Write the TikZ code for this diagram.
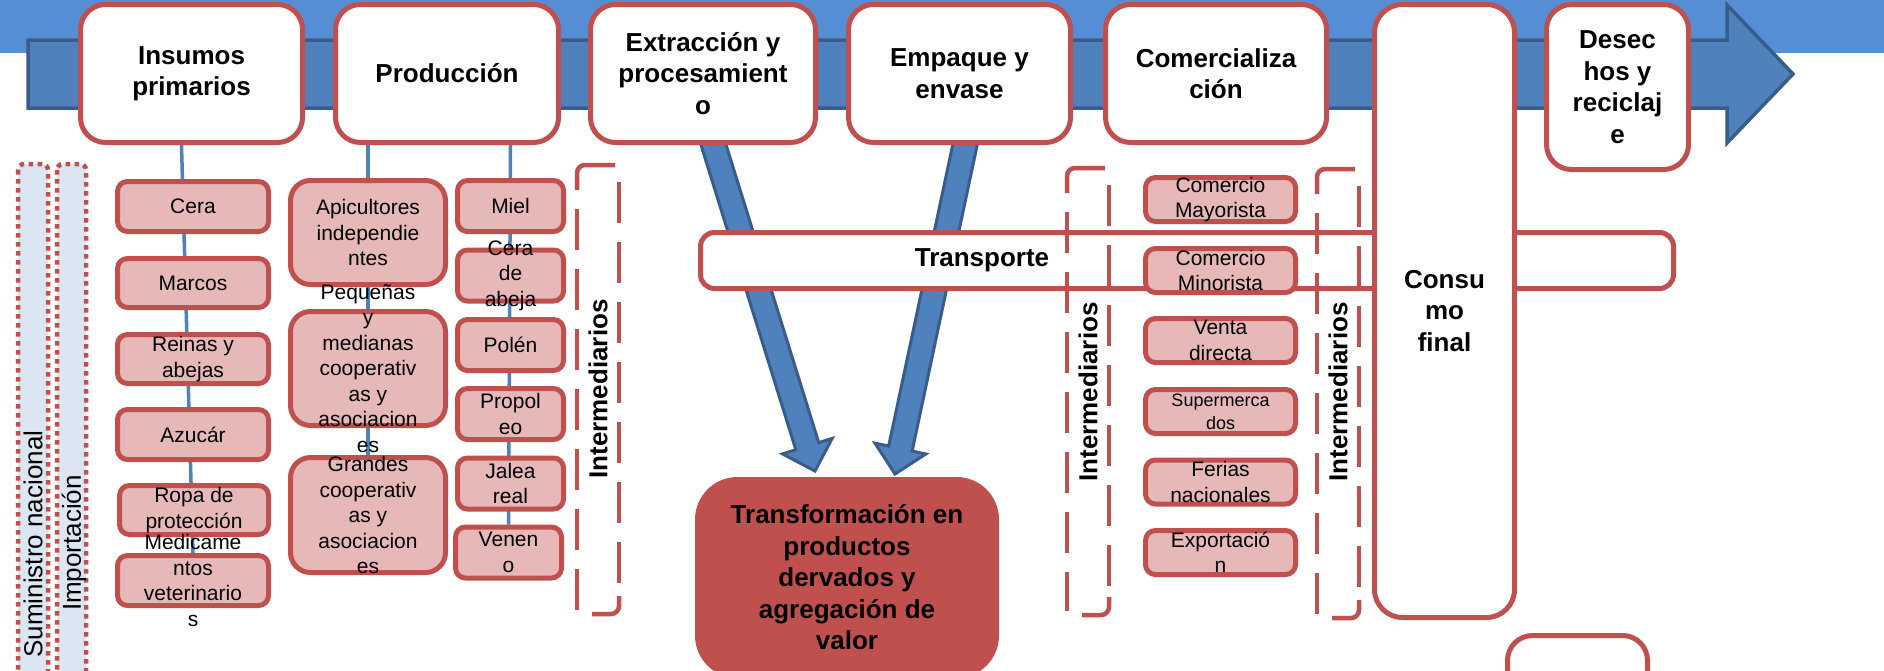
\documentclass[tikz,border=0pt]{standalone}
\usepackage{fontspec}
\setmainfont{Liberation Sans}
\usetikzlibrary{calc}
\pgfdeclarelayer{background}
\pgfsetlayers{background,main}
\definecolor{redc}{HTML}{C0504D}
\definecolor{pinkc}{HTML}{E6B9B8}
\definecolor{bluec}{HTML}{4F81BD}
\definecolor{darkblue}{HTML}{385D8A}
\definecolor{bandblue}{HTML}{558ED5}
\definecolor{dotfill}{HTML}{DCE6F2}
\newcommand\myfatarrow[2]{%
 \path ($(#2)!26pt!(#1)$) coordinate (fatH);
 \draw[fatarr] ($(#1)!12pt!90:(#2)$) -- ($(fatH)!12pt!-90:(#1)$) -- ($(fatH)!26pt!-90:(#1)$) -- (#2) -- ($(fatH)!26pt!90:(#1)$) -- ($(fatH)!12pt!90:(#1)$) -- ($(#1)!12pt!-90:(#2)$) -- cycle;
}
\newcommand\ibracket[4]{%
 \draw[brk, rounded corners=8pt] (#3-4,#2) -- (#1,#2) -- (#1,#2+25);
 \draw[brk, dash pattern=on 41pt off 19pt] (#1,#2+44) -- (#1,#4-4);
 \draw[brk, dash pattern=on 41pt off 19pt] (#3,#2+17) -- (#3,#4-18);
 \draw[brk, rounded corners=8pt] (#1+15,#4) -- (#3,#4) -- (#3,#4-18);
}
\newcommand\pitem[7][]{\node[pbox,minimum width=#5pt,minimum height=#6pt,#1,label={[ptext]center:{#7}}] (#2) at (#3,#4) {};}
\begin{document}
\begin{tikzpicture}[x=1pt,y=-1pt,
  hbox/.style={draw=redc,line width=5pt,fill=white,rounded corners=25pt,inner sep=0pt,font=\bfseries\fontsize{26}{31.5}\selectfont,align=center,text=black},
  pbox/.style={draw=redc,line width=5pt,fill=pinkc,rounded corners=10pt,inner sep=0pt},
  ptext/.style={font=\fontsize{21}{25.5}\selectfont,align=center,inner sep=0pt,text=black},
  conn/.style={draw=bluec,line width=3.5pt},
  fatarr/.style={fill=bluec,draw=darkblue,line width=3pt,line join=miter},
  brk/.style={draw=redc,line width=4.5pt},
  dotcol/.style={fill=dotfill,draw=redc,line width=4.5pt,dash pattern=on 4.5pt off 4.5pt,rounded corners=6pt},
  vtext/.style={rotate=90,font=\fontsize{26}{30}\selectfont,inner sep=0pt},
  itext/.style={rotate=90,font=\bfseries\fontsize{26}{30}\selectfont,inner sep=0pt},
]
\useasboundingbox (0,0) rectangle (1884,670);
\begin{pgfonlayer}{background}
 \fill[white] (0,0) rectangle (1884,670);
 \fill[bandblue] (0,0) rectangle (1884,53);
 \draw[fatarr,line width=3.5pt] (28,40) -- (1727,40) -- (1727,5) -- (1793,74) -- (1727,143) -- (1727,108) -- (28,108) -- cycle;
\end{pgfonlayer}

% header boxes
\node[hbox,minimum width=222pt,minimum height=138pt] (ins) at (191.5,73.5) {Insumos\\primarios};
\node[hbox,minimum width=223pt,minimum height=138pt] (prod) at (447,73.5) {Producción};
\node[hbox,minimum width=225pt,minimum height=138pt] (ext) at (703,73.5) {Extracción y\\procesamient\\o};
\node[hbox,minimum width=222pt,minimum height=138pt] (emp) at (959.5,73.5) {Empaque y\\envase};
\node[hbox,minimum width=221pt,minimum height=138pt] (com) at (1216,73.5) {Comercializa\\ción};

% transporte, consumo, desechos, transformacion
\node[hbox,rounded corners=14pt,minimum width=973pt,minimum height=56pt,label={[font=\bfseries\fontsize{26}{31.5}\selectfont,xshift=-205pt]center:Transporte}] (trans) at (1187,260.5) {};
\node[hbox,rounded corners=28pt,minimum width=140pt,minimum height=613pt] (cons) at (1444.5,311) {Consu\\mo\\final};
\node[hbox,minimum width=142pt,minimum height=165pt] (des) at (1617.5,87) {Desec\\hos y\\reciclaj\\e};
\node[hbox,minimum width=140pt,minimum height=200pt] (extra) at (1577.5,735.5) {};
\node[hbox,fill=redc,rounded corners=40pt,minimum width=299pt,minimum height=196pt] (tfm) at (847,577.5) {Transformación en\\productos\\dervados y\\agregación de\\valor};

% dotted columns
\draw[dotcol] (18,164) rectangle (48,720);
\draw[dotcol] (57,164) rectangle (86,720);
\node[vtext] (sum) at (33,544) {Suministro nacional};
\node[vtext] (imp) at (74,543) {Importación};

% brackets
\ibracket{577}{165}{619}{614}
\ibracket{1067}{168}{1109}{615}
\ibracket{1317}{169}{1359}{618}
\node[itext] (int1) at (598,389) {Intermediarios};
\node[itext] (int2) at (1088,392) {Intermediarios};
\node[itext] (int3) at (1338,392) {Intermediarios};

% insumos items
\pitem{cera}{193}{206.5}{151}{50}{Cera}
\pitem{marcos}{193}{283}{151}{49}{Marcos}
\pitem{reinas}{193}{359}{151}{49}{Reinas y\\abejas}
\pitem{azucar}{193}{434.5}{151}{50}{Azucár}
\pitem{ropa}{194}{510}{149}{49}{Ropa de\\protección}
\pitem{medic}{193}{580.5}{151}{50}{Medicame\\ntos\\veterinario\\s}

% produccion items
\pitem[rounded corners=20pt]{api}{368}{232.5}{155}{104}{Apicultores\\independie\\ntes}
\pitem[rounded corners=20pt]{peq}{368}{368.5}{155}{114}{Pequeñas\\y\\medianas\\cooperativ\\as y\\asociacion\\es}
\pitem[rounded corners=20pt]{gra}{368}{515}{155}{115}{Grandes\\cooperativ\\as y\\asociacion\\es}
\pitem{miel}{510.5}{206}{106}{51}{Miel}
\pitem{cerab}{510.5}{275.5}{106}{51}{Cera\\de\\abeja}
\pitem{polen}{510.5}{345}{106}{51}{Polén}
\pitem{propo}{510.5}{414}{106}{51}{Propol\\eo}
\pitem{jalea}{510.5}{483.5}{106}{51}{Jalea\\real}
\pitem{ven}{508.5}{552.5}{106}{51}{Venen\\o}

% comercializacion items
\pitem{cmay}{1220.5}{199.5}{150}{44}{Comercio\\Mayorista}
\pitem{cmin}{1220.5}{270.5}{150}{44}{Comercio\\Minorista}
\pitem{vdir}{1220.5}{340.5}{150}{44}{Venta\\directa}
\node[pbox,minimum width=150pt,minimum height=44pt,label={[ptext,font=\fontsize{18}{23}\selectfont]center:{Supermerca\\dos}}] (super) at (1220.5,411.5) {};
\pitem{ferias}{1220.5}{482}{150}{44}{Ferias\\nacionales}
\pitem{export}{1220.5}{552.5}{150}{44}{Exportació\\n}

% connectors and arrows behind
\begin{pgfonlayer}{background}
 \draw[conn] ([xshift=-10pt]ins.south) -- (medic.north);
 \draw[conn] (prod.south -| api.center) -- (gra.north);
 \draw[conn] (prod.south -| miel.center) -- (ven.north);
 \coordinate (a1s) at ([xshift=9pt,yshift=5pt]ext.south);
 \coordinate (a1t) at (815,471);
 \coordinate (a2s) at ([xshift=6.5pt,yshift=5pt]emp.south);
 \coordinate (a2t) at (895,474);
 \myfatarrow{a1s}{a1t}
 \myfatarrow{a2s}{a2t}
\end{pgfonlayer}
\end{tikzpicture}
\end{document}
